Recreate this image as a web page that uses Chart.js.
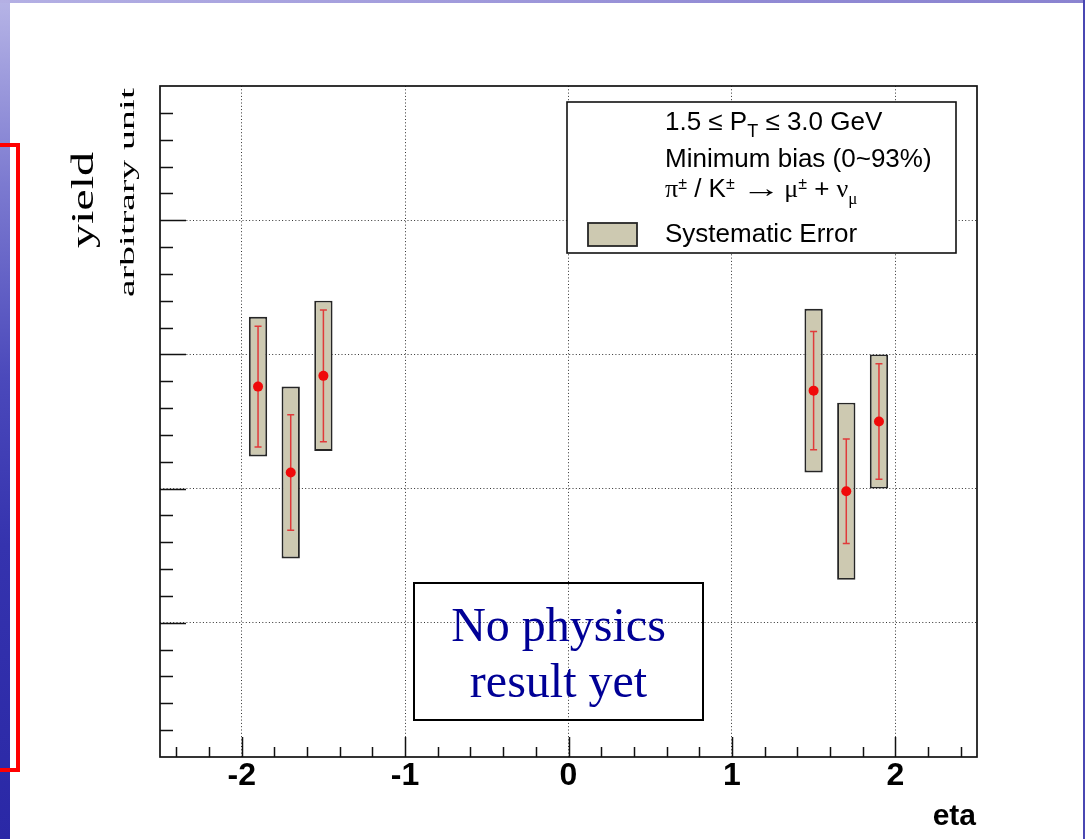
<!DOCTYPE html>
<html>
<head>
<meta charset="utf-8">
<title>Yield vs eta</title>
<script src="https://cdn.jsdelivr.net/npm/chart.js@4.4.1/dist/chart.umd.min.js"></script>
<style>
  html, body { margin: 0; padding: 0; background: #ffffff; }
  body { width: 1085px; height: 839px; position: relative; overflow: hidden; }
  #chart { position: absolute; left: 0; top: 0; }
  .strip-left {
    position: absolute; left: 0; top: 0; width: 10px; height: 839px;
    background: linear-gradient(to bottom, #b6b4e6 0%, #7c7ad0 22%, #4b49bb 45%, #3533ae 65%, #2a28a6 100%);
  }
  .strip-top {
    position: absolute; left: 0; top: 0; width: 1085px; height: 3px;
    background: linear-gradient(to right, #b4b0e4 0%, #a29cdc 40%, #918ad4 70%, #8a83d0 100%);
  }
  .edge-right { position: absolute; right: 0; top: 0; width: 2px; height: 839px; background: #4a47b2; }
  .bracket {
    position: absolute; left: -10px; top: 143px; width: 26px; height: 621px;
    border: 4.5px solid #ff0000; border-left: none;
  }
</style>
</head>
<body>
<canvas id="chart" width="1085" height="839"></canvas>
<div class="strip-left"></div>
<div class="strip-top"></div>
<div class="edge-right"></div>
<div class="bracket"></div>
<script>
// Measured yield per pseudorapidity bin (arbitrary units)
const etaBins     = [-1.9, -1.7, -1.5, 1.5, 1.7, 1.9];
const yieldValues = [2.76, 2.12, 2.84, 2.73, 1.98, 2.50];
const statErrors  = [0.45, 0.43, 0.49, 0.44, 0.39, 0.43];
const sysErrors   = [0.52, 0.64, 0.56, 0.61, 0.66, 0.50];

// Axis definition
const xRange      = [-2.5, 2.5];
const yRange      = [0, 5];
const xMajorTicks = [-2, -1, 0, 1, 2];
const xTickLabels = ['-2', '-1', '0', '1', '2'];
const yMajorTicks = [1, 2, 3, 4];
const minorStep   = 0.2;

const xTitle = 'eta';
const yTitle = 'yield';
const ySubTitle = 'arbitrary unit';
const noteLines = ['No physics', 'result yet'];
const sysLabel = 'Systematic Error';

const SANS = '"Liberation Sans", Arial, sans-serif';
const SERIF = '"Liberation Serif", "Times New Roman", serif';
const SYS_FILL = '#cdc9b1';
const SYS_EDGE = '#262626';
const POINT_RED = '#f00a0a';
const ERR_RED = '#e03a3a';

const near = (a, b) => Math.abs(a - b) < 1e-6;
const isMajor = (v, list) => list.some(m => near(m, v));

function minorTicks(min, max, step) {
  const out = [];
  for (let i = Math.ceil(min / step + 1e-9); i * step < max - 1e-9; i++) {
    out.push(Math.round(i * step * 1000) / 1000);
  }
  return out;
}

// Statistical error bars drawn on top of the systematic boxes
const errorBarPlugin = {
  id: 'errorBars',
  afterDatasetDraw(chart, args) {
    if (args.index !== 1) return;
    const { ctx, scales: { x, y } } = chart;
    ctx.save();
    ctx.strokeStyle = ERR_RED;
    ctx.lineWidth = 1.5;
    etaBins.forEach((eta, i) => {
      const px = x.getPixelForValue(eta);
      const top = y.getPixelForValue(yieldValues[i] + statErrors[i]);
      const bot = y.getPixelForValue(yieldValues[i] - statErrors[i]);
      ctx.beginPath();
      ctx.moveTo(px, top); ctx.lineTo(px, bot);
      ctx.moveTo(px - 3.5, top); ctx.lineTo(px + 3.5, top);
      ctx.moveTo(px - 3.5, bot); ctx.lineTo(px + 3.5, bot);
      ctx.stroke();
    });
    ctx.restore();
  }
};

// Draws a run of text pieces (sub/superscripts, stretched glyphs) along one baseline
function drawRich(ctx, x, y, parts) {
  let cx = x;
  for (const p of parts) {
    ctx.font = p.font;
    const w = ctx.measureText(p.text).width;
    const sx = p.sx || 1;
    ctx.save();
    ctx.translate(cx, y + (p.dy || 0));
    ctx.scale(sx, 1);
    ctx.fillText(p.text, 0, 0);
    ctx.restore();
    cx += w * sx;
  }
}

function drawStretchedVertical(ctx, text, font, cy, baselineX, length) {
  ctx.save();
  ctx.font = font;
  const w = ctx.measureText(text).width;
  ctx.translate(baselineX, cy);
  ctx.rotate(-Math.PI / 2);
  ctx.scale(length / w, 1);
  ctx.textAlign = 'center';
  ctx.textBaseline = 'alphabetic';
  ctx.fillText(text, 0, 0);
  ctx.restore();
}

// Frame, inward tick marks, legend, axis titles and the note box
const decorPlugin = {
  id: 'decor',
  afterDraw(chart) {
    const { ctx, chartArea: a, scales: { x, y } } = chart;
    ctx.save();

    // inward ticks
    ctx.strokeStyle = '#111';
    ctx.lineWidth = 1.5;
    ctx.beginPath();
    x.ticks.forEach(t => {
      const px = Math.round(x.getPixelForValue(t.value)) + 0.5;
      const len = isMajor(t.value, xMajorTicks) ? 20 : 10;
      ctx.moveTo(px, a.bottom); ctx.lineTo(px, a.bottom - len);
    });
    y.ticks.forEach(t => {
      const py = Math.round(y.getPixelForValue(t.value)) + 0.5;
      const len = isMajor(t.value, yMajorTicks) ? 26 : 13;
      ctx.moveTo(a.left, py); ctx.lineTo(a.left + len, py);
    });
    ctx.stroke();

    // frame
    ctx.lineWidth = 1.7;
    ctx.strokeStyle = '#111';
    ctx.strokeRect(a.left, a.top, a.right - a.left, a.bottom - a.top);

    // x title
    ctx.fillStyle = '#000';
    ctx.font = 'bold 30px ' + SANS;
    ctx.textAlign = 'right';
    ctx.textBaseline = 'alphabetic';
    ctx.fillText(xTitle, a.right - 1, 825);

    // y titles
    drawStretchedVertical(ctx, yTitle, '31px ' + SERIF, 200, 93, 96);
    drawStretchedVertical(ctx, ySubTitle, '20px ' + SERIF, 192.5, 133.5, 209);

    // legend box
    ctx.lineWidth = 1.6;
    ctx.strokeStyle = '#111';
    ctx.fillStyle = '#ffffff';
    ctx.fillRect(567, 102, 389, 151);
    ctx.strokeRect(567, 102, 389, 151);

    ctx.fillStyle = '#000';
    ctx.textAlign = 'left';
    const f = '26px ' + SANS;
    const fs = '18px ' + SANS;
    const fsup = '16px ' + SANS;
    const g = '26px ' + SERIF;
    drawRich(ctx, 665, 130, [
      { text: '1.5 \u2264 P', font: f },
      { text: 'T', font: fs, dy: 7 },
      { text: ' \u2264 3.0 GeV', font: f }
    ]);
    drawRich(ctx, 665, 166.7, [{ text: 'Minimum bias (0~93%)', font: f }]);
    drawRich(ctx, 665, 196.7, [
      { text: '\u03C0', font: g },
      { text: '\u00B1', font: fsup, dy: -8 },
      { text: ' / K', font: f },
      { text: '\u00B1', font: fsup, dy: -8 },
      { text: ' ', font: f },
      { text: '\u2192', font: f, sx: 1.5 },
      { text: ' ', font: '12px ' + SANS },
      { text: '\u03BC', font: g },
      { text: '\u00B1', font: fsup, dy: -8 },
      { text: ' + ', font: f },
      { text: '\u03BD', font: g },
      { text: '\u03BC', font: '17px ' + SERIF, dy: 7 }
    ]);
    ctx.fillStyle = SYS_FILL;
    ctx.fillRect(588, 223, 49, 23);
    ctx.strokeStyle = SYS_EDGE;
    ctx.lineWidth = 1.8;
    ctx.strokeRect(588, 223, 49, 23);
    ctx.fillStyle = '#000';
    drawRich(ctx, 665, 242, [{ text: sysLabel, font: f }]);

    // note box
    ctx.strokeStyle = '#000';
    ctx.lineWidth = 2;
    ctx.strokeRect(414, 583, 289, 137);
    ctx.fillStyle = '#000096';
    ctx.font = '48px ' + SERIF;
    ctx.textAlign = 'center';
    ctx.fillText(noteLines[0], 558.5, 641);
    ctx.fillText(noteLines[1], 558.5, 697);

    ctx.restore();
  }
};

const chart = new Chart(document.getElementById('chart'), {
  type: 'scatter',
  data: {
    datasets: [
      {
        type: 'scatter',
        label: 'yield',
        data: etaBins.map((eta, i) => ({ x: eta, y: yieldValues[i] })),
        pointRadius: 5,
        pointHoverRadius: 5,
        backgroundColor: POINT_RED,
        borderWidth: 0
      },
      {
        type: 'bar',
        label: sysLabel,
        data: etaBins.map((eta, i) => ({ x: eta, y: [yieldValues[i] - sysErrors[i], yieldValues[i] + sysErrors[i]] })),
        backgroundColor: SYS_FILL,
        borderColor: SYS_EDGE,
        borderWidth: 1.9,
        borderSkipped: false,
        barPercentage: 0.56,
        categoryPercentage: 1.0
      }
    ]
  },
  options: {
    responsive: false,
    animation: false,
    devicePixelRatio: 1,
    layout: { padding: { left: 160, right: 108, top: 86, bottom: 42 } },
    plugins: { legend: { display: false }, tooltip: { enabled: false } },
    scales: {
      x: {
        type: 'linear',
        min: xRange[0], max: xRange[1],
        offset: false,
        afterBuildTicks: s => { s.ticks = minorTicks(xRange[0], xRange[1], minorStep).map(v => ({ value: v })); },
        afterFit: s => { s.height = 40; },
        ticks: {
          autoSkip: false, maxRotation: 0, minRotation: 0, padding: 0,
          color: '#000',
          font: { family: SANS, size: 32, weight: 'bold' },
          callback: v => {
            const i = xMajorTicks.findIndex(m => near(m, v));
            return i >= 0 ? xTickLabels[i] : '';
          }
        },
        grid: {
          offset: false,
          drawTicks: false,
          lineWidth: 1,
          color: c => (c.tick && isMajor(c.tick.value, xMajorTicks)) ? '#333333' : 'rgba(0,0,0,0)'
        },
        border: { display: false, dash: [1, 2.3] }
      },
      y: {
        type: 'linear',
        min: yRange[0], max: yRange[1],
        afterBuildTicks: s => { s.ticks = minorTicks(yRange[0], yRange[1], minorStep).map(v => ({ value: v })); },
        afterFit: s => { s.width = 0; },
        ticks: { display: false },
        grid: {
          offset: false,
          drawTicks: false,
          lineWidth: 1,
          color: c => (c.tick && isMajor(c.tick.value, yMajorTicks)) ? '#333333' : 'rgba(0,0,0,0)'
        },
        border: { display: false, dash: [1, 2.3] }
      }
    }
  },
  plugins: [errorBarPlugin, decorPlugin]
});
</script>
</body>
</html>
